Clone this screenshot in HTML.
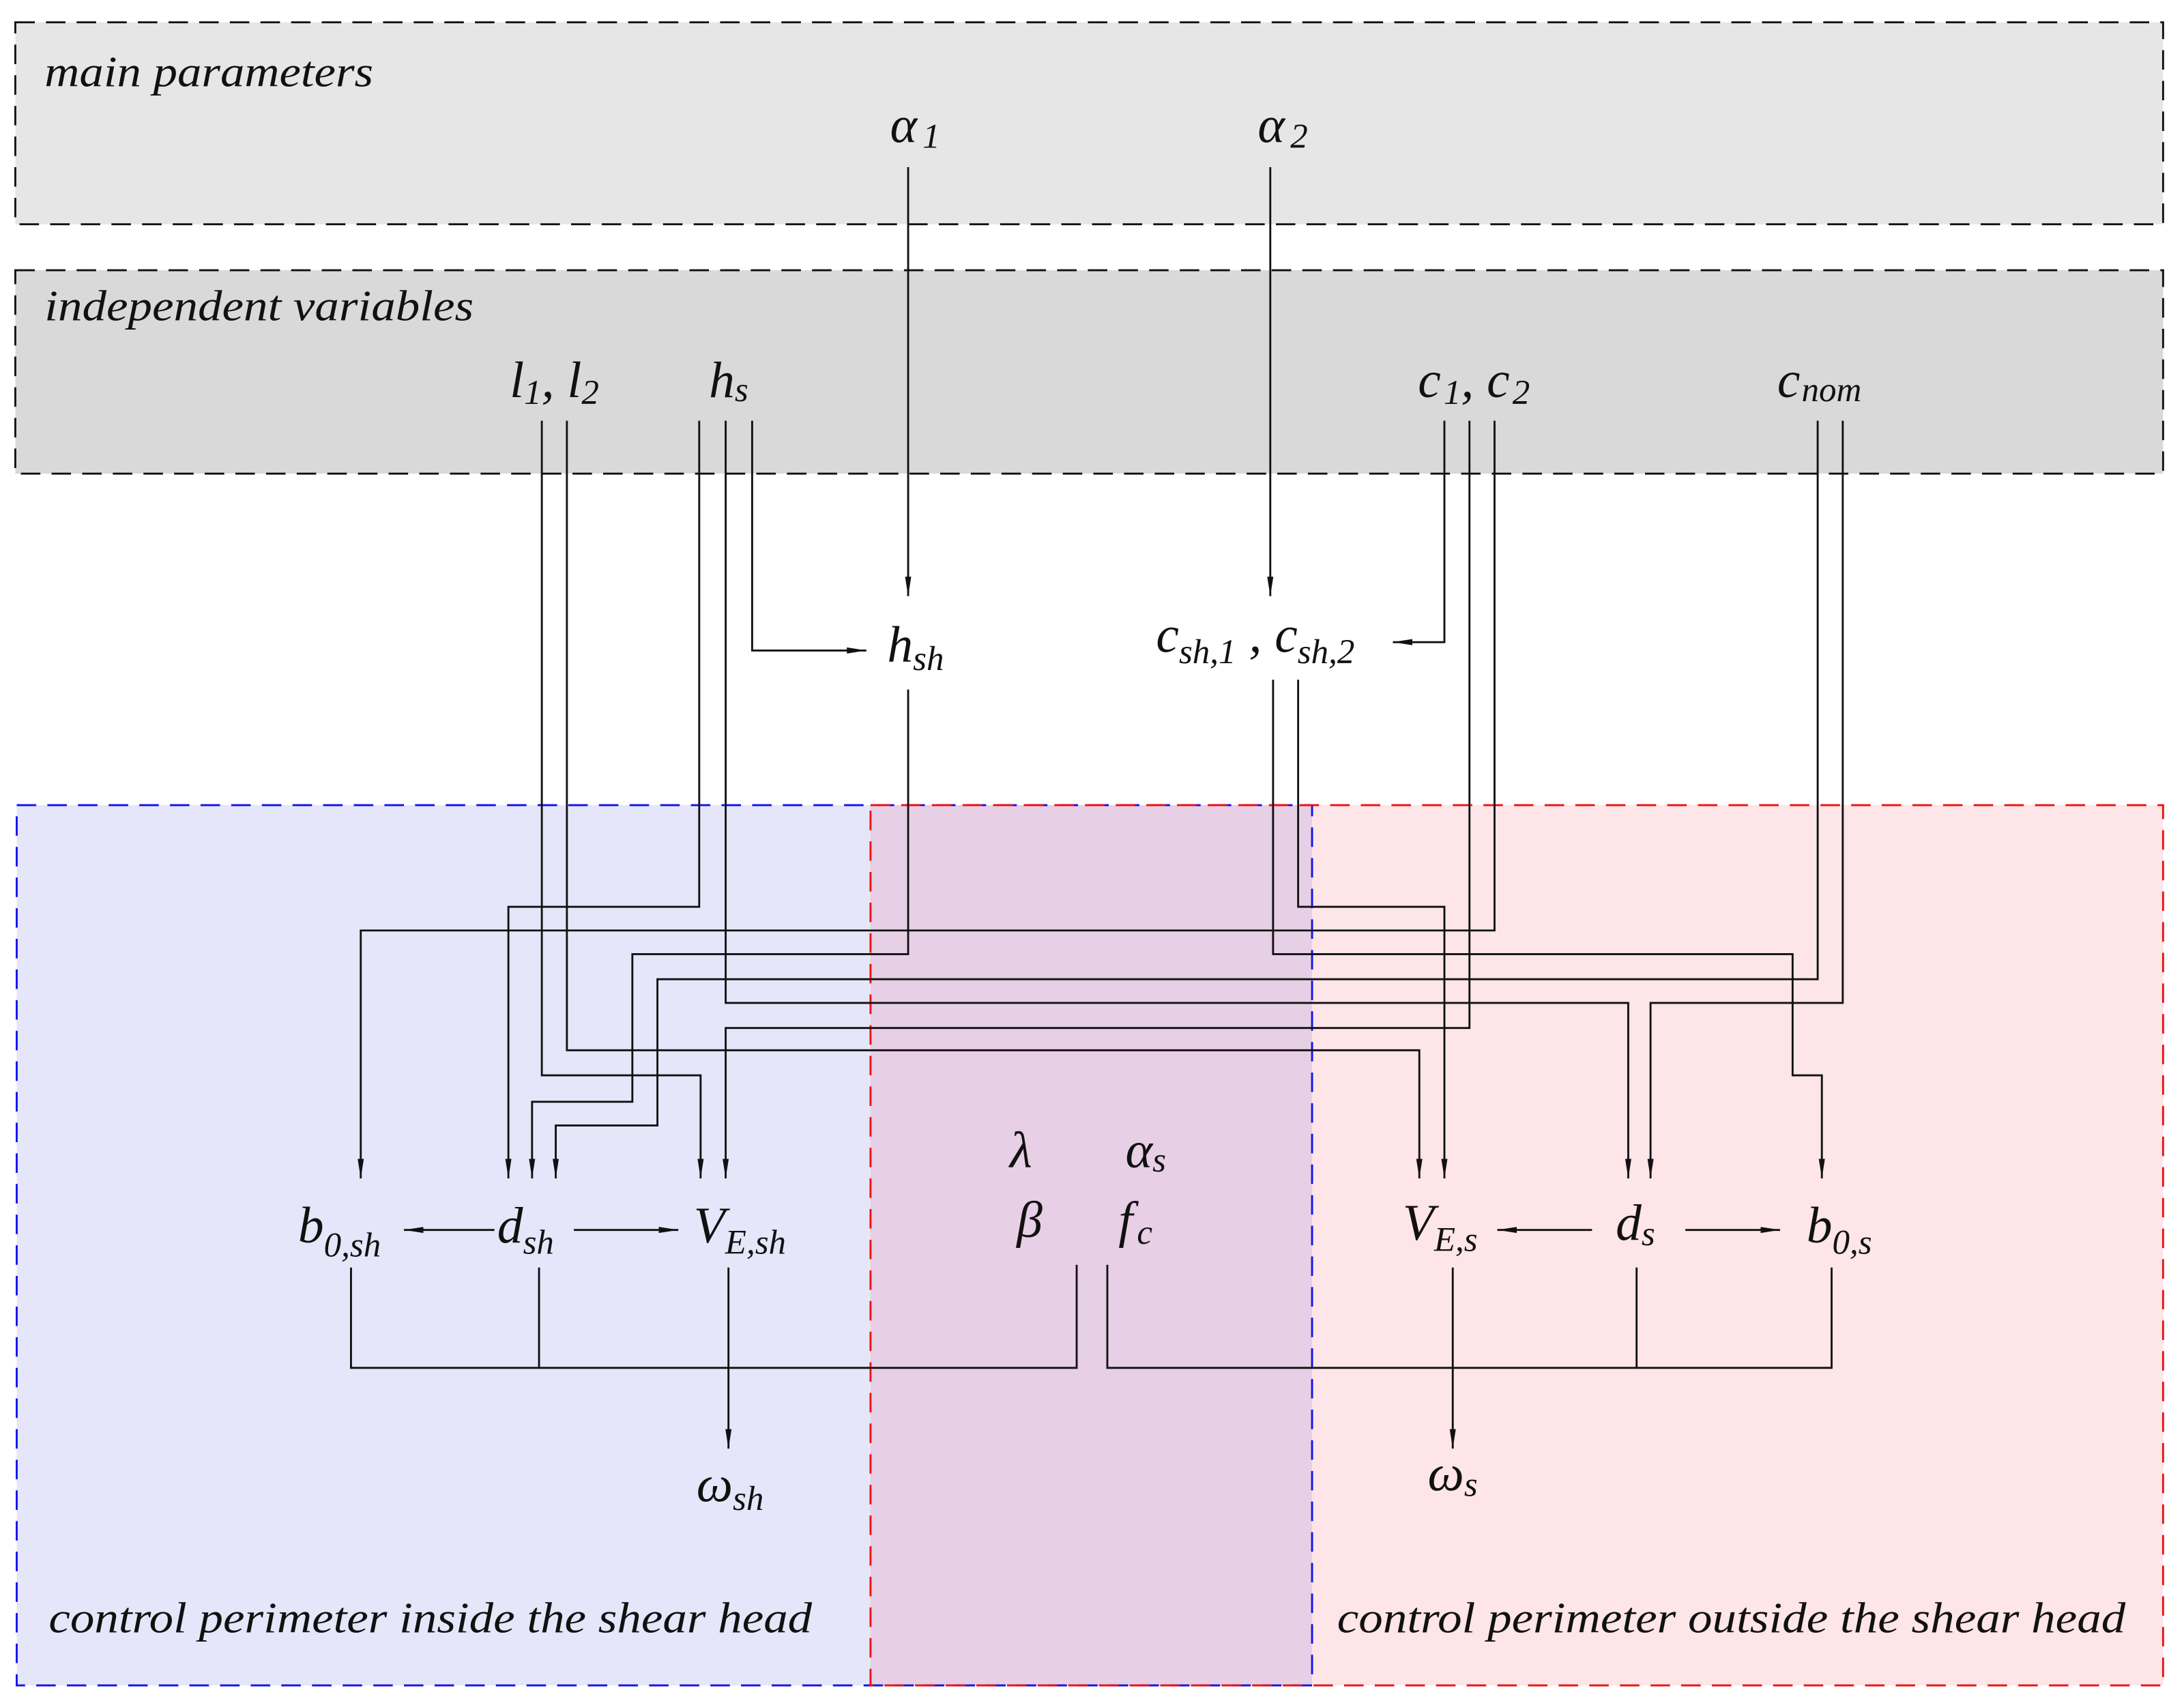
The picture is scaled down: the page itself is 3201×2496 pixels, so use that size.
<!DOCTYPE html>
<html><head><meta charset="utf-8"><style>
html,body{margin:0;padding:0;background:#fff}
svg{display:block}
text{font-family:"Liberation Serif",serif;font-style:italic;fill:#111}
</style></head><body>
<svg width="3201" height="2496" viewBox="0 0 1568 1222.6" xmlns="http://www.w3.org/2000/svg">
<defs>
<marker id="a" viewBox="0 0 14 6" refX="14" refY="3" markerWidth="14" markerHeight="6" markerUnits="userSpaceOnUse" orient="auto">
<path d="M0,0.8 L14,3 L0,5.2 Z" fill="#111"/></marker>
</defs>
<rect x="11" y="16" width="1542" height="145" fill="#e6e6e6" stroke="#111" stroke-width="1.4" stroke-dasharray="14,8"/>
<rect x="11" y="194" width="1542" height="146" fill="#d9d9d9" stroke="#111" stroke-width="1.4" stroke-dasharray="14,8"/>
<rect x="12" y="578" width="930" height="632" fill="#e6e6fa"/>
<rect x="625" y="578" width="928" height="632" fill="#fde5e8"/>
<rect x="625" y="578" width="317" height="632" fill="#e7cfe5"/>
<rect x="12" y="578" width="930" height="632" fill="none" stroke="#1010ee" stroke-width="1.4" stroke-dasharray="14,8"/>
<rect x="625" y="578" width="928" height="632" fill="none" stroke="#ee1010" stroke-width="1.4" stroke-dasharray="14,8"/>

<text x="32" y="62" font-size="31" textLength="236" lengthAdjust="spacingAndGlyphs">main parameters</text>
<text x="32" y="230" font-size="31" textLength="308" lengthAdjust="spacingAndGlyphs">independent variables</text>
<text x="35" y="1172" font-size="31" textLength="548" lengthAdjust="spacingAndGlyphs">control perimeter inside the shear head</text>
<text x="960" y="1172" font-size="31" textLength="566" lengthAdjust="spacingAndGlyphs">control perimeter outside the shear head</text>

<g font-size="37">
<text x="639" y="102">α<tspan font-size="25" dx="4" dy="4">1</tspan></text>
<text x="903" y="102">α<tspan font-size="25" dx="4" dy="4">2</tspan></text>
<text x="366" y="285">l<tspan font-size="25" dy="5">1</tspan><tspan dy="-5">, l</tspan><tspan font-size="25" dy="5">2</tspan></text>
<text x="509" y="285">h<tspan font-size="25" dy="3">s</tspan></text>
<text x="1018" y="285">c<tspan font-size="25" dx="2" dy="5">1</tspan><tspan dy="-5">, c</tspan><tspan font-size="25" dx="2" dy="5">2</tspan></text>
<text x="1276" y="285">c<tspan font-size="25" dx="1" dy="3">nom</tspan></text>
<text x="637" y="475">h<tspan font-size="25" dy="6">sh</tspan></text>
<text x="830" y="468">c<tspan font-size="25" dy="8">sh,1</tspan><tspan dy="-8"> , c</tspan><tspan font-size="25" dy="8">sh,2</tspan></text>
<text x="214" y="892">b<tspan font-size="25" dy="10">0,sh</tspan></text>
<text x="357" y="892">d<tspan font-size="25" dy="8">sh</tspan></text>
<text x="498" y="892">V<tspan font-size="25" dy="8">E,sh</tspan></text>
<text x="1007" y="890">V<tspan font-size="25" dy="8">E,s</tspan></text>
<text x="1160" y="890">d<tspan font-size="25" dy="4">s</tspan></text>
<text x="1297" y="892">b<tspan font-size="25" dy="8">0,s</tspan></text>
<text x="725" y="838" font-style="normal">λ</text>
<text x="808" y="838">α<tspan font-size="25" dy="3">s</tspan></text>
<text x="730" y="888">β</text>
<text x="803" y="888">f<tspan font-size="25" dx="3" dy="5">c</tspan></text>
<text x="500" y="1078">ω<tspan font-size="25" dy="6">sh</tspan></text>
<text x="1025" y="1070">ω<tspan font-size="25" dy="4">s</tspan></text>
</g>

<g fill="none" stroke="#111" stroke-width="1.4">
<path d="M652,120 V428" marker-end="url(#a)"/>
<path d="M912,120 V428" marker-end="url(#a)"/>
<path d="M540,302 V467 H622" marker-end="url(#a)"/>
<path d="M1037,302 V461 H1000" marker-end="url(#a)"/>
<path d="M502,302 V651 H365 V846" marker-end="url(#a)"/>
<path d="M1073,302 V668 H259 V846" marker-end="url(#a)"/>
<path d="M652,495 V685 H454 V791 H382 V846" marker-end="url(#a)"/>
<path d="M1305,302 V703 H472 V808 H399 V846" marker-end="url(#a)"/>
<path d="M521,302 V720 H1169 V846" marker-end="url(#a)"/>
<path d="M1055,302 V738 H521 V846" marker-end="url(#a)"/>
<path d="M407,302 V754 H1019 V846" marker-end="url(#a)"/>
<path d="M389,302 V772 H503 V846" marker-end="url(#a)"/>
<path d="M932,488 V651 H1037 V846" marker-end="url(#a)"/>
<path d="M914,488 V685 H1287 V772 H1308 V846" marker-end="url(#a)"/>
<path d="M1323,302 V720 H1185 V846" marker-end="url(#a)"/>
<path d="M355,883 H290" marker-end="url(#a)"/>
<path d="M412,883 H487" marker-end="url(#a)"/>
<path d="M1143,883 H1075" marker-end="url(#a)"/>
<path d="M1210,883 H1278" marker-end="url(#a)"/>
<path d="M252,910 V982 H773 V908"/>
<path d="M387,910 V982"/>
<path d="M795,908 V982 H1315 V910"/>
<path d="M1175,910 V982"/>
<path d="M523,910 V1040" marker-end="url(#a)"/>
<path d="M1043,910 V1040" marker-end="url(#a)"/>
</g>
</svg>
</body></html>
